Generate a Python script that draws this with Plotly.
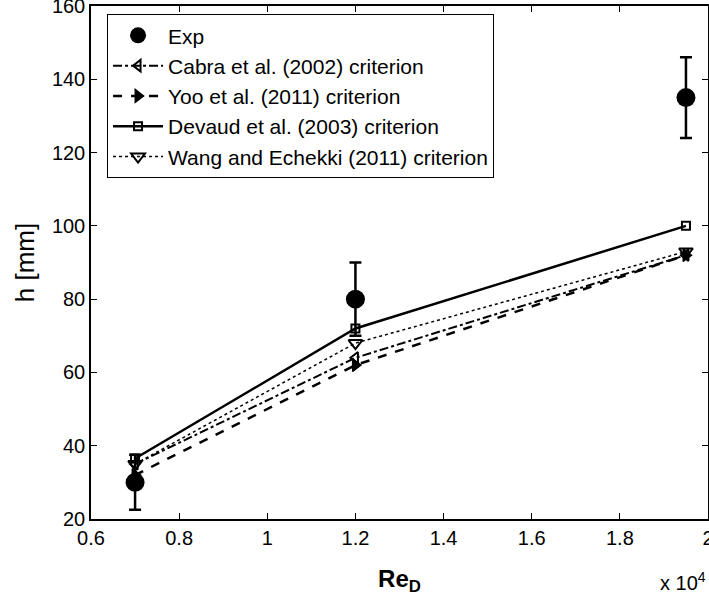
import plotly.graph_objects as go

re_d = [7000, 12000, 19500]
exp_h = [30, 80, 135]
exp_err = [7.5, 10, 11]
cabra_h = [35, 64, 92]
yoo_h = [32, 62, 92]
devaud_h = [36.5, 72, 100]
wang_h = [35, 68, 93]

x_ticks = [6000, 8000, 10000, 12000, 14000, 16000, 18000, 20000]
x_ticktext = ["0.6", "0.8", "1", "1.2", "1.4", "1.6", "1.8", "2"]
y_ticks = [20, 40, 60, 80, 100, 120, 140, 160]

FONT = "Arial, Liberation Sans, sans-serif"

fig = go.Figure()
fig.add_trace(go.Scatter(
    x=re_d, y=exp_h, mode="markers", name="Exp", legendgroup="a",
    marker=dict(symbol="circle", size=19, color="black"),
    error_y=dict(type="data", array=exp_err, color="black", thickness=2.5, width=6),
))
fig.add_trace(go.Scatter(
    x=re_d, y=cabra_h, mode="lines+markers", name="Cabra et al. (2002) criterion", legendgroup="b",
    line=dict(color="black", width=2, dash="dashdot"),
    marker=dict(symbol="triangle-left-open", size=10, color="black", line=dict(width=2)),
))
fig.add_trace(go.Scatter(
    x=re_d, y=yoo_h, mode="lines+markers", name="Yoo et al. (2011) criterion", legendgroup="c",
    line=dict(color="black", width=2.5, dash="dash"),
    marker=dict(symbol="triangle-right", size=11, color="black", line=dict(width=1.5, color="black")),
))
fig.add_trace(go.Scatter(
    x=re_d, y=devaud_h, mode="lines+markers", name="Devaud et al. (2003) criterion", legendgroup="d",
    line=dict(color="black", width=2.5),
    marker=dict(symbol="square-open", size=8, color="black", line=dict(width=2)),
))
fig.add_trace(go.Scatter(
    x=re_d, y=wang_h, mode="lines+markers", name="Wang and Echekki (2011) criterion", legendgroup="e",
    line=dict(color="black", width=1.5, dash="dot"),
    marker=dict(symbol="triangle-down-open", size=12, color="black", line=dict(width=2)),
))

fig.update_layout(
    width=709, height=606,
    margin=dict(l=91, r=1, t=6, b=87),
    paper_bgcolor="white", plot_bgcolor="white",
    font=dict(family=FONT, color="black", size=20),
    showlegend=True,
    legend=dict(
        x=0.026, y=0.984, xanchor="left", yanchor="top",
        bordercolor="black", borderwidth=1, bgcolor="white",
        font=dict(size=21, family=FONT), tracegroupgap=0, traceorder="grouped",
        itemwidth=50,
    ),
    xaxis=dict(
        range=[6000, 20000], tickvals=x_ticks, ticktext=x_ticktext,
        ticks="inside", ticklen=6, tickcolor="black", tickwidth=1,
        showline=True, linecolor="black", linewidth=1.5, mirror="ticks",
        showgrid=False, zeroline=False, tickfont=dict(size=20),
        ticklabeloverflow="allow", automargin=False,
        title=dict(text="<b>Re<sub>D</sub></b>", font=dict(size=24), standoff=22),
    ),
    yaxis=dict(
        range=[20, 160], tickvals=y_ticks,
        ticks="inside", ticklen=6, tickcolor="black", tickwidth=1,
        showline=True, linecolor="black", linewidth=1.5, mirror="ticks",
        showgrid=False, zeroline=False, tickfont=dict(size=20),
        ticklabeloverflow="allow", automargin=False,
        title=dict(text="h [mm]", font=dict(size=26), standoff=10),
    ),
    annotations=[dict(
        text="x 10<sup>4</sup>", xref="paper", yref="paper", x=0.96, y=-0.122,
        xanchor="center", yanchor="middle", showarrow=False, font=dict(size=20),
    )],
)

fig.write_html("out.html")
